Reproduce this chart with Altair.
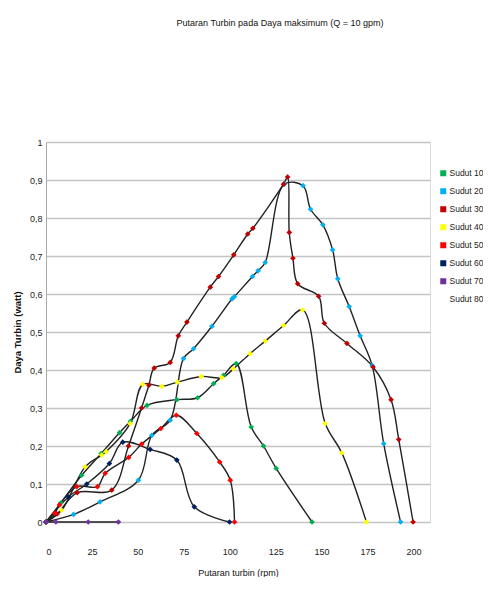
import altair as alt
import pandas as pd

names = ["Sudut 10", "Sudut 20", "Sudut 30", "Sudut 40", "Sudut 50", "Sudut 60", "Sudut 70", "Sudut 80"]
colors = ["#00B050", "#00B0F0", "#C00000", "#FFFF00", "#FF0000", "#002060", "#7030A0", "transparent"]

s10_rpm = [0, 8, 19.4, 30, 40, 46, 55, 71.2, 82.5, 91.2, 96.6, 103.5, 111.7, 118.4, 125.3, 144.8]
s10_w = [0, 0.05, 0.123, 0.18, 0.235, 0.265, 0.307, 0.322, 0.327, 0.364, 0.386, 0.417, 0.25, 0.2, 0.141, 0]

s20_rpm = [0, 15, 29.4, 50.3, 57.6, 67.6, 74.8, 80.3, 90.3, 101.2, 102.5, 112.4, 115.4, 119.3, 129.7,
           139.9, 144, 150.7, 156, 158.8, 165, 171, 177.5, 183.8, 193]
s20_w = [0, 0.02, 0.053, 0.11, 0.228, 0.268, 0.43, 0.456, 0.515, 0.587, 0.593, 0.646, 0.661, 0.683, 0.889,
         0.885, 0.823, 0.782, 0.716, 0.64, 0.567, 0.49, 0.412, 0.206, 0]

s30_rpm = [0, 6, 17, 35.8, 44.9, 52, 56, 58.9, 67.6, 72, 76.7, 89.4, 93.9, 102.2, 109.8, 112.6, 129.3, 131.5,
           132.4, 134.4, 137, 148.4, 151.5, 163.8, 178, 187.8, 192, 199.8]
s30_w = [0, 0.021, 0.077, 0.084, 0.2, 0.3, 0.36, 0.405, 0.42, 0.49, 0.526, 0.618, 0.646, 0.703, 0.758, 0.773, 0.889, 0.908,
         0.762, 0.694, 0.627, 0.594, 0.523, 0.47, 0.408, 0.322, 0.217, 0]

s40_rpm = [0, 8.5, 21.3, 30.3, 32.7, 45.8, 52.7, 63, 71.6, 84.5, 95.7, 102, 111, 119.3, 129.3, 139.7,
           152, 161, 174.4]
s40_w = [0, 0.031, 0.145, 0.176, 0.185, 0.259, 0.362, 0.357, 0.368, 0.383, 0.38, 0.403, 0.443, 0.476, 0.517, 0.558,
         0.259, 0.182, 0]

s50_rpm = [0, 4.9, 7.3, 16.7, 28, 32.2, 45, 52.1, 62.5, 70.9, 82.1, 94.5, 100.3, 102.6]
s50_w = [0, 0.023, 0.045, 0.093, 0.093, 0.128, 0.17, 0.205, 0.246, 0.281, 0.233, 0.158, 0.11, 0]

s60_rpm = [0, 12.2, 22.2, 34.5, 41.8, 56.7, 71.2, 80.7, 99.9]
s60_w = [0, 0.066, 0.1, 0.154, 0.21, 0.191, 0.163, 0.04, 0]

s70_rpm = [0, 5.4, 23, 39.4]
s70_w = [0, 0, 0, 0]

y_ticks = [0, 0.1, 0.2, 0.3, 0.4, 0.5, 0.6, 0.7, 0.8, 0.9, 1.0]
x_ticks = [0, 25, 50, 75, 100, 125, 150, 175, 200]

series_data = [(names[0], s10_rpm, s10_w), (names[1], s20_rpm, s20_w), (names[2], s30_rpm, s30_w),
               (names[3], s40_rpm, s40_w), (names[4], s50_rpm, s50_w), (names[5], s60_rpm, s60_w),
               (names[6], s70_rpm, s70_w)]

rows = []
for nm, xs, ys in series_data:
    for i, (a, b) in enumerate(zip(xs, ys)):
        rows.append({"series": nm, "idx": i, "rpm": a, "watt": b})
df = pd.DataFrame(rows)

FONT = "Liberation Sans, Arial, sans-serif"

x_enc = alt.X("rpm:Q", scale=alt.Scale(domain=[0, 209], nice=False, zero=True),
              axis=alt.Axis(values=x_ticks, grid=False, ticks=False,
                            domain=False, labelPadding=25, labelFontSize=9, labelFont=FONT,
                            labelColor="#222", labelOverlap=False,
                            title="Putaran turbin (rpm)", titleFont=FONT,
                            titleFontSize=9, titleFontWeight="normal", titlePadding=12, titleColor="#111"))
y_enc = alt.Y("watt:Q", scale=alt.Scale(domain=[0, 1], nice=False),
              axis=alt.Axis(values=y_ticks, tickCount=11,
                            labelExpr="datum.value == 0 ? '0' : (datum.value >= 0.999 ? '1' : replace(format(datum.value, '.1f'), '.', ','))",
                            labelOverlap=False, labelFlush=False,
                            grid=True, gridColor="#c4c4c4", gridWidth=1.6, ticks=False,
                            domainColor="#aaaaaa", domainWidth=1, labelPadding=4, labelFontSize=9,
                            labelFont=FONT, labelColor="#222",
                            title="Daya Turbin (watt)", titleFont=FONT, titleFontSize=9.5,
                            titleFontWeight="bold", titlePadding=7, titleColor="#111"))

base = alt.Chart(df)
lines = base.mark_line(color="#222222", strokeWidth=1.4, interpolate="catmull-rom").encode(
    x=x_enc, y=y_enc, detail="series:N", order="idx:Q")
points = base.mark_point(shape="diamond", filled=True, size=32, opacity=1).encode(
    x=x_enc, y=y_enc,
    color=alt.Color("series:N", scale=alt.Scale(domain=names, range=colors),
                    legend=alt.Legend(title=None, orient="none", legendX=393, legendY=27,
                                      symbolType="square", symbolSize=36, symbolStrokeWidth=0,
                                      labelFont=FONT, labelFontSize=8.5, labelColor="#222",
                                      rowPadding=9, labelOffset=2)))

chart = alt.layer(lines, points).properties(
    width=384, height=380,
    title=alt.TitleParams("Putaran Turbin pada Daya maksimum (Q = 10 gpm)", font=FONT, fontSize=9,
                          fontWeight="normal", color="#111", anchor="middle", dx=42, offset=110),
    autosize=alt.AutoSizeParams(type="none"),
    padding={"left": 38, "top": 134, "right": 53, "bottom": 55},
).configure_view(stroke=None).configure(background="white")

chart.save("out.html", embed_options={"renderer": "svg", "actions": False})
